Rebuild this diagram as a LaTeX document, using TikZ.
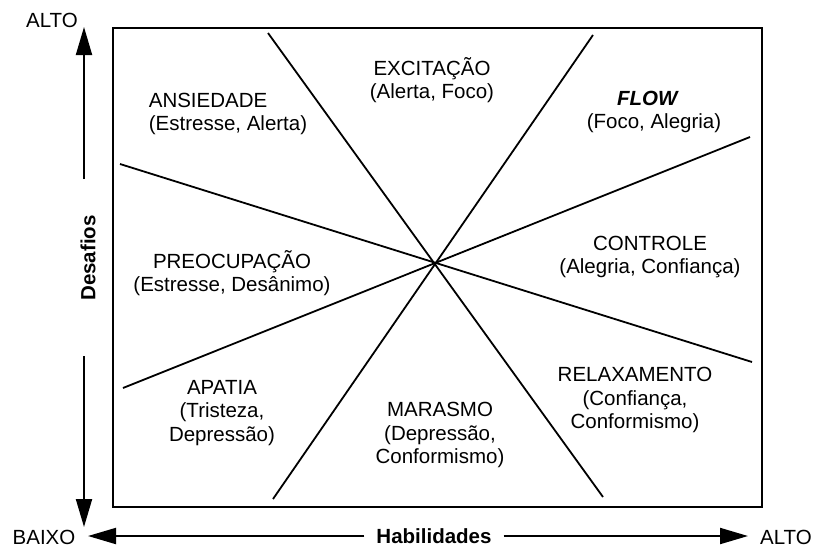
\documentclass[tikz,border=0pt]{standalone}
\usepackage{fontspec}
\setmainfont{Liberation Sans}
\usetikzlibrary{arrows.meta}
\begin{document}
\begin{tikzpicture}[x=1pt,y=-1pt,font=\fontsize{20.5}{23.5}\selectfont,zone/.style={align=center,inner sep=0pt},axlab/.style={font=\fontsize{20.5}{24}\selectfont,inner sep=0pt},axarr/.style={-{Triangle[length=28pt,width=16pt]},line width=2pt},divl/.style={line width=1.8pt}]
\useasboundingbox (0,0) rectangle (840,547);
% quadro
\draw[line width=2pt] (113,28) rectangle (762,507);
\coordinate (ta) at (268,33);\coordinate (ba) at (603,497);
\coordinate (tb) at (593,35);\coordinate (bb) at (273,499);
\coordinate (la) at (120,164);\coordinate (ra) at (752,362);
\coordinate (lb) at (123,388);\coordinate (rb) at (750,137);
\foreach \a/\b in {ta/ba,tb/bb,la/ra,lb/rb} \draw[divl] (\a)--(\b);
% estados
\node[zone,align=left] (ans) at (228,114) {ANSIEDADE\\(Estresse, Alerta)};
\node[zone] (exc) at (432,80) {EXCITAÇÃO\\(Alerta, Foco)};
\node[zone] (flow) at (654,112) {\textbf{\textit{FLOW}}\hspace*{12pt}\\(Foco, Alegria)};
\node[zone] (pre) at (232,273) {PREOCUPAÇÃO\\(Estresse, Desânimo)};
\node[zone] (ctrl) at (650,257) {CONTROLE\\(Alegria, Confiança)};
\node[zone] (apa) at (222,413) {APATIA\\(Tristeza,\\Depressão)};
\node[zone] (mar) at (440,435) {MARASMO\\(Depressão,\\Conformismo)};
\node[zone] (rel) at (635,400) {RELAXAMENTO\\(Confiança,\\Conformismo)};
% eixos
\node[axlab] (yalto) at (52,20) {ALTO};
\node[axlab] (baixo) at (44,537) {BAIXO};
\node[axlab] (xalto) at (786,537) {ALTO};
\node[axlab,font=\fontsize{20.5}{24}\selectfont\bfseries,rotate=90] (desaf) at (88,258) {Desafios};
\node[axlab,font=\fontsize{20.5}{24}\selectfont\bfseries,inner xsep=12pt] (habil) at (434,536) {Habilidades};
\coordinate (yup) at (84,179);\coordinate (ytip) at (84,27);
\coordinate (ydn) at (84,356);\coordinate (ybot) at (84,527);
\coordinate (xlo) at (88,536);\coordinate (xhi) at (748,536);
\draw[axarr] (yup)--(ytip);\draw[axarr] (ydn)--(ybot);
\draw[axarr] (habil.west)--(xlo);\draw[axarr] (habil.east)--(xhi);
\end{tikzpicture}
\end{document}
